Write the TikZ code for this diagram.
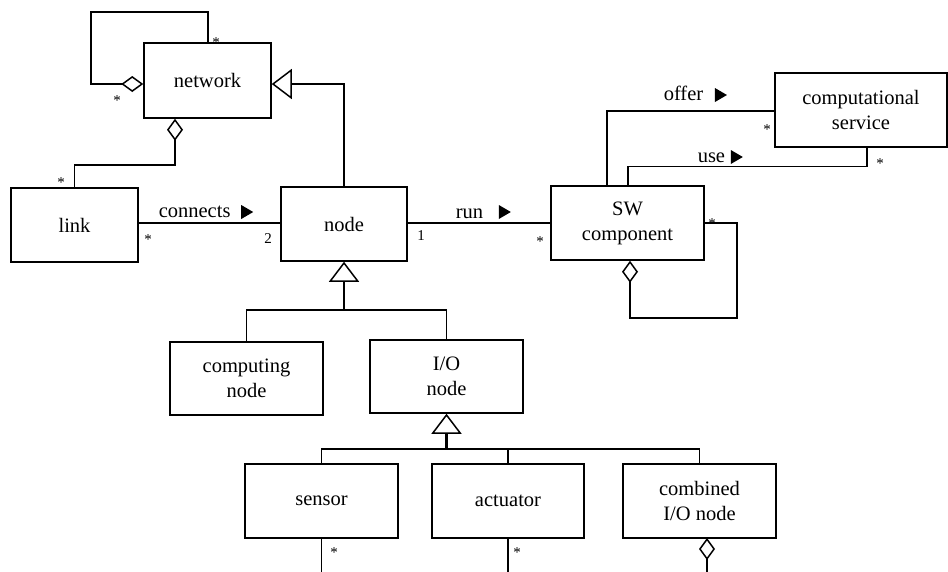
\documentclass[tikz,border=0pt]{standalone}
\usepackage{fontspec}
\setmainfont{Liberation Serif}
\usetikzlibrary{arrows.meta}
\begin{document}
\begin{tikzpicture}[x=1pt,y=-1pt,
  line width=1.5pt,
  box/.style={draw, line width=1.5pt, inner sep=2pt, align=center,
    font=\fontsize{20.5}{25}\selectfont},
  lbl/.style={inner sep=0pt, font=\fontsize{20.5}{25}\selectfont},
  mult/.style={inner sep=0pt, font=\fontsize{15}{17}\selectfont, anchor=base},
  gen/.style={-{Triangle[width=30pt,length=20pt,fill=white,line width=1.5pt]}},
  agg/.style={{Diamond[width=16pt,length=22pt,fill=white,line width=1.5pt]}-},
  heavy/.style={line width=2.6pt}]

\fill[white] (0,0) rectangle (948,571);
\useasboundingbox (0,0) rectangle (948,571);

% classes
\node[box, minimum width=127pt, minimum height=75pt] (network) at (207.5,80.5) {network};
\node[box, minimum width=127pt, minimum height=74pt] (link) at (74.5,225) {link};
\node[box, minimum width=126pt, minimum height=74pt] (node) at (344,224) {node};
\node[box, minimum width=153pt, minimum height=74pt] (sw) at (627.5,223) {SW\\component};
\node[box, minimum width=172pt, minimum height=74pt] (cs) at (861,110) {computational\\service};
\node[box, minimum width=153pt, minimum height=73pt] (computing) at (246.5,378.5) {computing\\node};
\node[box, minimum width=153pt, minimum height=73pt] (io) at (446.5,376.5) {I/O\\node};
\node[box, minimum width=153pt, minimum height=74pt] (sensor) at (321.5,501) {sensor};
\node[box, minimum width=152pt, minimum height=74pt] (actuator) at (508,501) {actuator};
\node[box, minimum width=153pt, minimum height=74pt] (combined) at (699.5,501) {combined\\I/O node};

% network is made of networks and links
\draw[agg] ([yshift=-3.5pt]network.west) -| (91,12) -| ([xshift=0.5pt]network.north);
\draw[agg] ([xshift=-32.5pt]network.south) -- ++(0,46) -| (link.north);

% associations
\draw (link.east |- 0,223) -- (node.west |- 0,223);
\draw (node.east |- 0,223) -- (sw.west |- 0,223);
\draw ([xshift=-20.5pt]sw.north) |- (cs.west |- 0,111);
\draw ([xshift=0.5pt]sw.north) -- ++(0,-19) -| ([xshift=6pt]cs.south);
\draw[agg] ([xshift=2.5pt]sw.south) -- ++(0,57) -| ([xshift=32pt]sw.east) -- (sw.east);

% a node is a network
\draw[gen] (node.north) |- ([yshift=-3.5pt]network.east);

% node specialisations
\coordinate (j1) at (344,310);
\draw[gen, heavy] (j1) -- (node.south);
\draw (computing.north) |- (j1);
\draw (io.north) |- (j1);

% I/O node specialisations
\coordinate (j2) at (446.5,449);
\draw[gen, heavy] (j2) -- (io.south);
\draw (sensor.north) |- (j2);
\draw (actuator.north) |- (j2);
\draw (combined.north) |- (j2);

% links leaving the lower edge
\coordinate (sensorEnd) at (321.5,572);
\coordinate (actuatorEnd) at (508,572);
\coordinate (combinedTop) at (707,538);
\coordinate (combinedEnd) at (707,572);
\draw (sensor.south) -- (sensorEnd);
\draw (actuator.south) -- (actuatorEnd);
\draw[agg] (combinedTop) -- (combinedEnd);

% association names with direction marks
\node[lbl, anchor=base west] (lconnects) at (158,217) {connects};
\fill (lconnects.base east) ++(10,-12) -- ++(0,14) -- ++(12,-7) -- cycle;
\node[lbl, anchor=base west] (lrun) at (455,218) {run};
\fill (lrun.base east) ++(15,-13) -- ++(0,14) -- ++(12,-7) -- cycle;
\node[lbl, anchor=base west] (loffer) at (663,100) {offer};
\fill (loffer.base east) ++(11,-12) -- ++(0,14) -- ++(12,-7) -- cycle;
\node[lbl, anchor=base west] (luse) at (697,162) {use};
\fill (luse.base east) ++(5,-12) -- ++(0,14) -- ++(12,-7) -- cycle;

% multiplicities
\node[mult] (m1) at (216,47) {*};
\node[mult] (m2) at (117,105) {*};
\node[mult] (m3) at (61,187) {*};
\node[mult] (m4) at (148,244) {*};
\node[mult] (m5) at (268,243) {2};
\node[mult] (m6) at (421,240) {1};
\node[mult] (m7) at (540,246) {*};
\node[mult] (m8) at (767,134) {*};
\node[mult] (m9) at (880,168) {*};
\node[mult] (m10) at (712,228) {*};
\node[mult] (m11) at (334,557) {*};
\node[mult] (m12) at (517,557) {*};
\end{tikzpicture}
\end{document}
